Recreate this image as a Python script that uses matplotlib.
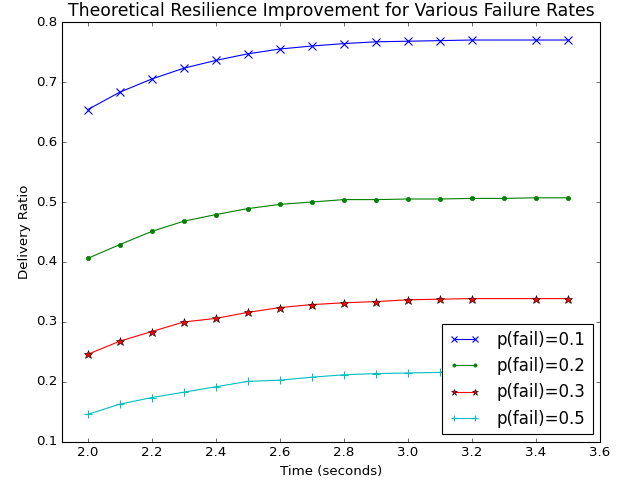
import matplotlib
matplotlib.use("Agg")
import matplotlib.pyplot as plt

plt.style.use('classic')

# time axis (seconds)
t_all = [2.0, 2.1, 2.2, 2.3, 2.4, 2.5, 2.6, 2.7, 2.8, 2.9, 3.0, 3.1, 3.2, 3.3, 3.4, 3.5]
t_skip = [2.0, 2.1, 2.2, 2.3, 2.4, 2.5, 2.6, 2.7, 2.8, 2.9, 3.0, 3.1, 3.2, 3.4, 3.5]

# delivery ratio per failure rate
p01 = [0.654, 0.683, 0.705, 0.723, 0.736, 0.747, 0.755, 0.760, 0.764, 0.767, 0.768, 0.769, 0.770, 0.770, 0.770]
p02 = [0.406, 0.429, 0.451, 0.468, 0.479, 0.489, 0.496, 0.500, 0.504, 0.504, 0.505, 0.505, 0.506, 0.506, 0.507, 0.507]
p03 = [0.246, 0.268, 0.284, 0.300, 0.306, 0.316, 0.324, 0.329, 0.332, 0.334, 0.337, 0.338, 0.339, 0.339, 0.339]
p05 = [0.146, 0.163, 0.174, 0.183, 0.192, 0.201, 0.203, 0.208, 0.212, 0.214, 0.215, 0.216, 0.217, 0.217, 0.218, 0.218]

fig = plt.figure(figsize=(8, 6.0625), dpi=80)
ax = fig.add_subplot(111)
fig.subplots_adjust(left=0.097, right=0.9375, bottom=0.0887, top=0.9546)

ax.plot(t_skip, p01, color='b', linestyle='-', marker='x', ms=8, mew=1, label='p(fail)=0.1')
ax.plot(t_all, p02, color='g', linestyle='-', marker='.', ms=8, mec='g', label='p(fail)=0.2')
ax.plot(t_skip, p03, color='r', linestyle='-', marker='*', ms=8, mec='k', label='p(fail)=0.3')
ax.plot(t_all, p05, color='c', linestyle='-', marker='+', ms=8, mew=1, label='p(fail)=0.5')

ax.set_xlim(1.92, 3.6)
ax.set_ylim(0.1, 0.8)
ax.set_title("Theoretical Resilience Improvement for Various Failure Rates", fontsize=15.5)
ax.set_xlabel("Time (seconds)")
ax.set_ylabel("Delivery Ratio")
ax.legend(loc='lower right', fontsize=15, handlelength=1.9, handletextpad=1.0,
          markerscale=0.75, borderaxespad=0.45)

plt.savefig("out.png", dpi=80)
